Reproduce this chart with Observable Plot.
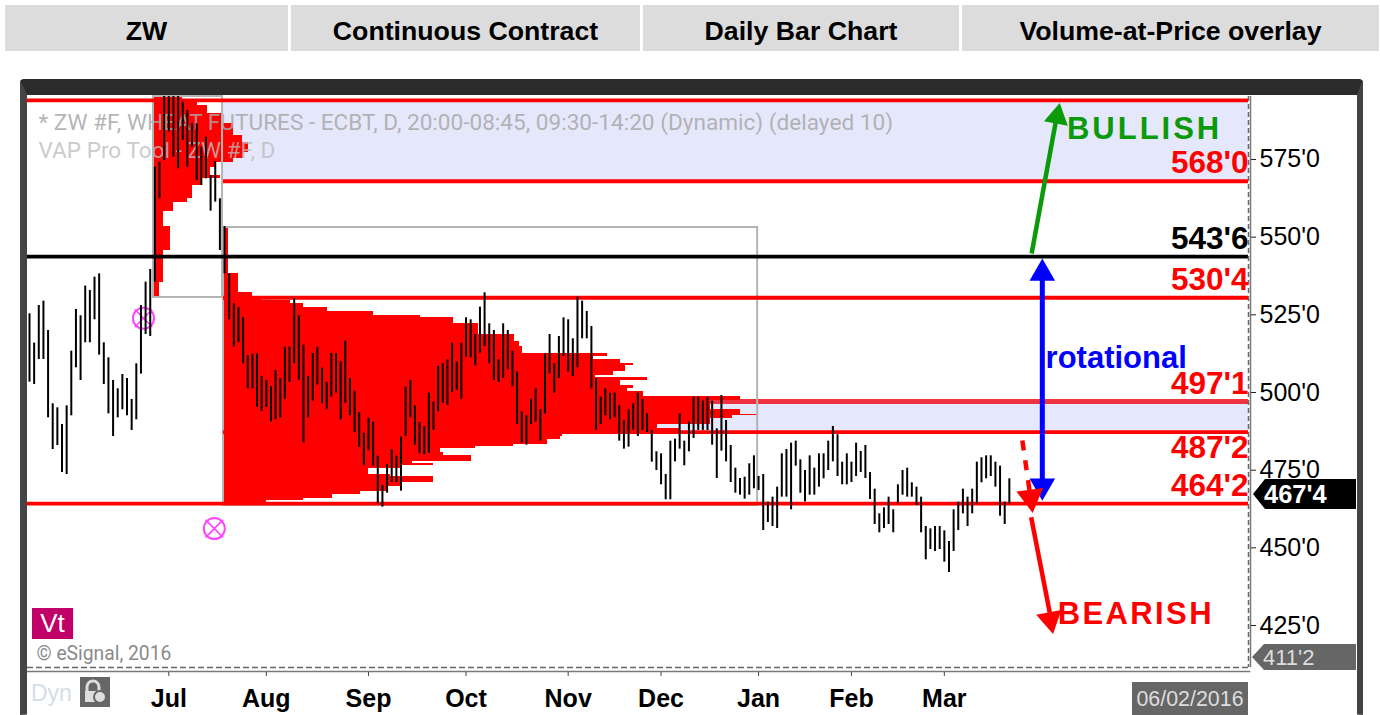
<!DOCTYPE html>
<html>
<head>
<meta charset="utf-8">
<script src="https://cdn.jsdelivr.net/npm/d3@7"></script>
<script src="https://cdn.jsdelivr.net/npm/@observablehq/plot@0.6"></script>
<style>
html,body{margin:0;padding:0;background:#fff}
#root{position:relative;width:1380px;height:715px;overflow:hidden;font-family:"Liberation Sans",Arial,sans-serif}
.hd{position:absolute;top:5px;height:46px;background:#dcdcdc;color:#000;font-weight:700;font-size:26.7px;line-height:52px;text-align:center}
#frame{position:absolute;left:20px;top:79px;width:1343px;height:636px;box-sizing:border-box;border-top:16px solid #2b2b2b;border-left:7px solid #444;border-right:6px solid #444;border-bottom:1px solid #999;border-radius:4px 4px 0 0}
#frame svg{display:block}
.tag{position:absolute;clip-path:polygon(0 50%,12px 0,100% 0,100% 100%,12px 100%);text-align:left;box-sizing:border-box}
</style>
</head>
<body>
<div id="root">
  <div class="hd" style="left:5px;width:283px">ZW</div>
  <div class="hd" style="left:291px;width:349px">Continuous Contract</div>
  <div class="hd" style="left:643px;width:316px">Daily Bar Chart</div>
  <div class="hd" style="left:962px;width:417px">Volume-at-Price overlay</div>
  <div id="frame"></div>
  <div class="tag" style="left:1253px;top:479px;width:103px;height:30px;background:#000;color:#fff;font-size:25.5px;font-weight:700;line-height:31px;padding-left:11px">467'4</div>
  <div class="tag" style="left:1252px;top:644px;width:104px;height:26px;background:#666;color:#ddd;font-size:22px;line-height:27px;padding-left:11px">411'2</div>
  <div style="position:absolute;left:1132px;top:682px;width:116px;height:33px;background:#666;color:#ddd;font-size:21.4px;line-height:34px;text-align:center">06/02/2016</div>
  <div style="position:absolute;left:31px;top:678px;color:#d5dde6;font-size:23px;line-height:30px">Dyn</div>
  <svg style="position:absolute;left:80px;top:677px" width="30" height="30"><rect width="30" height="30" fill="#666"/><path d="M7 15V10a6 6 0 0 1 12 0v5" fill="none" stroke="#ddd" stroke-width="3"/><rect x="5" y="14" width="12" height="11" fill="#ddd"/><circle cx="20" cy="20" r="6" fill="#ddd" stroke="#666" stroke-width="2"/></svg>
</div>
<script>
// Daily bars, oldest first
const highs = [525.33,515.89,528.01,529.41,519.97,496.36,495.07,489.71,495.72,513.31,526.73,524.69,534.24,532.84,537.13,538.2,516,511.17,503.87,501.19,505.8,504.51,497.76,509.24,528.01,535.52,539.6,
572.53,574.14,595.28,595.28,595.28,595.28,593.46,590.77,586.48,586.48,578.97,582.19,569.85,574.36,562.34,553.4,
538.2,528.55,527.26,524.04,511.92,512.45,512.45,505.16,503.87,501.94,507.09,504.51,514.6,514.6,530.16,524.69,515.24,505.16,512.56,514.6,507.84,503.23,512.56,512.56,509.88,516.53,504.51,500.44,493.57,
486.92,491.75,490.46,479.51,470.07,476.73,481.55,479.51,485.63,501.73,503.87,495.72,490.35,489.06,499.79,497,508.48,509.24,510.52,515.89,509.77,515.89,524.04,523.4,518.68,527.48,532.09,522.11,519.97,510.52,522.11,519.97,513.31,506.55,493.79,492.5,497.86,501.19,494.43,512.45,518.68,509.24,518.03,524.04,523.4,517.28,530.7,529.41,526.08,521.25,504.41,498.5,501.19,499.79,499.79,495.72,491,494.43,496.36,499.79,497.76,493.14,487.78,480.91,480.27,473.61,484.34,484.99,493.14,484.34,490.46,498.5,498.5,
497.22,498.29,497.22,488.31,499.04,490.99,482.95,475.65,472.33,472.75,477.05,479.62,472.97,473.61,464.71,466.32,469.54,480.27,481.66,483.7,484.34,478.33,474.9,479.62,475.65,480.27,480.27,484.34,489.06,486.38,477.58,480.27,477.58,483.7,481.02,482.95,474.26,468.89,460.95,462.88,466.32,462.24,470.29,474.9,475.65,470.93,469.54,466.32,456.87,456.12,456.87,456.87,455.48,452.05,462.24,464.71,468.89,466.32,468.89,477.58,478.98,479.62,479.62,477.58,476.3,464.71,472.22];
const lows = [503.33,502.58,510.63,510.63,491.85,481.66,482.95,474.26,473.61,492.5,507.95,503.87,516,516,523.4,512.03,502.58,493.14,485.85,491.85,494.43,492.5,487.78,491.21,505.91,518.68,518.03,
535.52,562.34,574.68,583.8,575.75,572,581.12,572.53,578.97,568.24,566.63,568.78,558.37,561.27,545.71,538.2,
523.4,514.6,516,509.24,501.19,501.19,495.18,493.89,495.18,490.57,491.21,491.85,497.86,503.23,509.24,503.87,483.81,491.85,497.2,502.37,496.36,494.43,498.5,499.79,491.21,496.58,492.5,487.13,482.41,
476.4,481.34,476.4,464.17,463.1,467.61,471.04,471.04,468.25,485.85,491.85,483.06,480.27,479.94,480.48,487.78,493.79,496.58,495.82,500.01,500.65,497.86,511.38,511.17,508.53,512.67,514.82,509.24,503.87,503.23,504.51,507.3,501.94,489.71,483.7,483.06,489.71,490.46,484.34,493.14,506,499.79,504.51,511.6,506.55,505.16,507.95,517.28,517.28,501.19,487.78,489.71,492.5,491.21,491.85,484.34,481.77,482.41,487.78,485.85,487.78,487.13,477.58,474.9,470.29,465.46,465.46,477.69,481.77,476.4,480.91,485.2,487.78,
487.78,487.78,483.05,472.33,481.12,477.69,471.04,467.6,466.96,465.67,466.96,469,468.46,455.59,458.16,456.87,456.23,466.32,466.32,462.24,476.3,467.6,464.81,466.96,466.96,469.54,472.22,474.9,477.69,472.97,470.29,470.29,471.04,472.97,474.26,472.33,465.57,457.52,454.84,456.23,457.52,454.84,464.17,466.96,466.32,466.32,463.63,454.84,446.14,449.47,448.83,449.47,445.39,442.07,448.83,455.59,460.95,456.87,460.95,464.17,470.93,472.22,472.97,469.54,460.2,457.52,464.17];

// Volume-at-price profile, Aug session: price boundaries and row lengths (in bars)
const vapMainEdges = [553.11,538.30,532.19,530.58,529.61,528.65,527.36,526.07,524.79,524.14,522.21,518.67,516.42,514.81,512.56,511.59,510.62,509.34,508.69,507.73,506.76,505.47,504.83,503.87,502.26,501.29,500.33,498.72,497.43,494.53,492.92,492.60,491.63,489.70,488.42,486.49,485.84,484.88,483.27,482.62,481.98,480.69,479.73,477.80,477.15,476.51,475.54,473.61,472.97,471.04,469.75,468.14,467.17,465.89,465.24,463.63];
const vapMainVols = [1.1,3.2,6.2,8.2,14.4,17.2,22.4,32.3,42.4,49.5,54.9,62.7,63.8,64.4,82.7,79.7,85.5,88.3,86.6,86.6,84,80.1,91.3,85.5,88.3,87,90.5,111.4,104.9,111.4,115,109.6,104.9,93.5,98.4,73,72.6,69.8,62.5,54.3,46.7,47.4,53.4,40.7,45.2,38.1,31.2,36,45.2,38.1,35.5,29.5,23.5,17.2,9.3];
const vapMainStart = 41.78, vapMainEnd = 156.8;
// Volume-at-price profile, Jul session
const vapJulEdges = [595.27,593.34,592.38,589.80,586.58,582.72,580.47,577.25,575.32,574.03,572.42,569.85,568.88,566.63,562.44,561.16,558.26,553.43,545.71,535.41,530.58];
const vapJulVols = [6.2,9.5,11.6,15.1,17.2,19.2,20.5,19.4,17.2,13.4,12.3,14.4,10.6,8.4,7.3,4.3,2.2,3.7,2.2,1.3];
const vapJulStart = 26.7, vapJulEnd = 41.57;

const fullLevels = [594,464.25];
const boxLevels = [568,530.5,487.25];
const blackLevel = 543.75;
const vaLevel = 497.125;
const upperLabels = [
  {p:568,t:"568'0",c:"#ff0000"},
  {p:543.75,t:"543'6",c:"#000"},
  {p:530.5,t:"530'4",c:"#ff0000"},
  {p:497.125,t:"497'1",c:"#ff0000"},
  {p:464.25,t:"464'2",c:"#ff0000"}
];
const lowerLabels = [{p:487.25,t:"487'2",c:"#ff0000"}];
const priceTicks = [425,450,475,500,525,550,575];
const monthPos = [30,51,73,94,116,136,157,177,197];
const monthNames = ["Jul","Aug","Sep","Oct","Nov","Dec","Jan","Feb","Mar"];
const xMin = -0.43, xMax = 262.5, pMin = 411.49, pMax = 595.27;

const bars = highs.map((h,i)=>({i,h,l:lows[i]}));
const rows = (edges,vols,start)=>vols.map((v,i)=>({x1:start,x2:start+v,y2:edges[i],y1:edges[i+1]}));
const lab = {fontFamily:"Liberation Sans",fontSize:31,fontWeight:700};
const sans = "Liberation Sans";

const chart = Plot.plot({
  width:1330, height:620,
  marginLeft:0, marginRight:109, marginTop:1, marginBottom:48,
  style:{background:"#fff",overflow:"visible",fontFamily:sans},
  x:{domain:[xMin,xMax],axis:null},
  y:{domain:[pMin,pMax],axis:null},
  marks:[
    // value-area bands
    Plot.rect([{a:vapJulEnd,b:xMax,t:594,m:568},{a:vapMainStart,b:xMax,t:497.125,m:487.25}],{x1:"a",x2:"b",y1:"m",y2:"t",fill:"#e5e7fb"}),
    // upper value-area edge lies under the profile
    Plot.ruleY([vaLevel],{x1:vapMainStart,x2:xMax,stroke:"#f01020",strokeWidth:5,strokeOpacity:.85}),
    // profiles
    Plot.rect(rows(vapMainEdges,vapMainVols,vapMainStart),{x1:"x1",x2:"x2",y1:"y1",y2:"y2",fill:"#ff0000",shapeRendering:"crispEdges"}),
    Plot.rect(rows(vapJulEdges,vapJulVols,vapJulStart),{x1:"x1",x2:"x2",y1:"y1",y2:"y2",fill:"#ff0000",shapeRendering:"crispEdges"}),
    // watermark
    Plot.text(["* ZW #F, WHEAT FUTURES - ECBT, D, 20:00-08:45, 09:30-14:20 (Dynamic) (delayed 10)"],{x:[1.94],y:[586.9],text:d=>d,textAnchor:"start",fontFamily:"Roboto",fontSize:22.6,fill:"#a8a8a8",fillOpacity:.85}),
    Plot.text(["VAP Pro Tool - ZW #F, D"],{x:[1.94],y:[577.9],text:d=>d,textAnchor:"start",fontFamily:"Roboto",fontSize:22.6,fill:"#bdbdbd",fillOpacity:.8}),
    // boxes
    Plot.rect([{a:vapJulStart,b:vapJulEnd,t:pMax,m:530.58},{a:vapMainStart,b:vapMainEnd,t:553.11,m:463.63}],{x1:"a",x2:"b",y1:"m",y2:"t",fill:"none",stroke:"#b4b4b4",strokeWidth:2}),
    // levels
    Plot.ruleY(fullLevels,{stroke:"#ff0000",strokeWidth:3.8}),
    Plot.ruleY(boxLevels,{x1:vapMainStart,x2:xMax,stroke:"#ff0000",strokeWidth:3.8}),
    Plot.ruleY([blackLevel],{stroke:"#000",strokeWidth:3.8}),
    // pivot markers
    Plot.dot([{x:24.55,y:523.9},{x:39.8,y:456.2}],{x:"x",y:"y",r:10.5,stroke:"#ff44ff",strokeWidth:2}),
    Plot.dot([{x:24.55,y:523.9},{x:39.8,y:456.2}],{x:"x",y:"y",r:8,symbol:"times",stroke:"#ff44ff",strokeWidth:1.6}),
    // daily bars
    Plot.ruleX(bars,{x:"i",y1:"l",y2:"h",stroke:"#000",strokeWidth:2}),
    // frame lines
    Plot.ruleY([pMin],{stroke:"#666",strokeWidth:1.5,strokeDasharray:"6 3"}),
    Plot.ruleY([pMin],{stroke:"#777",strokeWidth:1.5,dy:4,x1:xMin,x2:xMax+0.5}),
    Plot.ruleX([xMax],{stroke:"#666",strokeWidth:1.5,strokeDasharray:"5 3"}),
    Plot.ruleX([xMax],{stroke:"#777",strokeWidth:1.5,dx:2}),
    // axes
    Plot.axisY(priceTicks,{anchor:"right",tickSize:5,tickPadding:4,dx:2,tickFormat:d=>d+"'0",fontFamily:sans,fontSize:25,fill:"#000",stroke:"#222",label:null}),
    Plot.axisX(monthPos,{anchor:"bottom",tickSize:4,tickPadding:13,dy:5,tickFormat:(d,i)=>monthNames[i],fontFamily:sans,fontSize:25,fontWeight:700,fill:"#000",stroke:"#444",label:null}),
    // level labels
    Plot.text(upperLabels,{x:()=>xMax,y:"p",text:"t",fill:"c",dy:-18,textAnchor:"end",...lab,fontSize:31.5}),
    Plot.text(lowerLabels,{x:()=>xMax,y:"p",text:"t",fill:"c",dy:16,textAnchor:"end",...lab,fontSize:31.5}),
    // arrows
    Plot.link([{a:215.8,b:544.74,c:221.2,d:588.83}],{x1:"a",y1:"b",x2:"c",y2:"d",stroke:"#0a9a0a",strokeWidth:4.5}),
    Plot.dot([{x:221.3,y:588.77}],{x:"x",y:"y",symbol:"triangle",r:9,rotate:10.5,fill:"#0a9a0a"}),
    Plot.ruleX([218.1],{y1:538.37,y2:469.95,stroke:"#0000ff",strokeWidth:5}),
    Plot.dot([{x:218.1,y:538.37,r:0},{x:218.1,y:469.95,r:180}],{x:"x",y:"y",symbol:"triangle",r:9.5,rotate:d=>d.r,fill:"#0000ff"}),
    Plot.link([{a:213.8,b:484.56,c:215.6,d:465.9}],{x1:"a",y1:"b",x2:"c",y2:"d",stroke:"#ff0000",strokeWidth:4.5,strokeDasharray:"10 10"}),
    Plot.dot([{x:215.6,y:466.2}],{x:"x",y:"y",symbol:"triangle",r:10,rotate:172.7,fill:"#ff0000"}),
    Plot.link([{a:215.7,b:459.86,c:219.7,d:429.2}],{x1:"a",y1:"b",x2:"c",y2:"d",stroke:"#ff0000",strokeWidth:4.5}),
    Plot.dot([{x:219.8,y:426.9}],{x:"x",y:"y",symbol:"triangle",r:9.5,rotate:169,fill:"#ff0000"}),
    // trend labels
    Plot.text(["BULLISH"],{x:[223.4],y:[584.65],text:d=>d,textAnchor:"start",fill:"#0a9a0a",...lab}),
    Plot.text(["BEARISH"],{x:[221.4],y:[428.55],text:d=>d,textAnchor:"start",fill:"#ff0000",...lab}),
    Plot.text(["rotational"],{x:[218.8],y:[510.95],text:d=>d,textAnchor:"start",fill:"#0000ff",...lab}),
    // Vt badge & copyright
    Plot.rect([{a:0.65,b:9.5,t:430.48,m:420.5}],{x1:"a",x2:"b",y1:"m",y2:"t",fill:"#c00068"}),
    Plot.text(["Vt"],{x:[4.95],y:[425.5],text:d=>d,fill:"#fff",fontFamily:sans,fontSize:26}),
    Plot.text(["© eSignal, 2016"],{x:[1.5],y:[416],text:d=>d,textAnchor:"start",fill:"#8a8a8a",fontFamily:"Roboto",fontSize:19.3})
  ]
});
document.getElementById("frame").appendChild(chart);
const spacing = {"BULLISH":"3px","BEARISH":"2.4px"};
d3.select(chart).selectAll("text").each(function(){const s=spacing[this.textContent];if(s)this.style.letterSpacing=s;});
</script>
</body>
</html>
